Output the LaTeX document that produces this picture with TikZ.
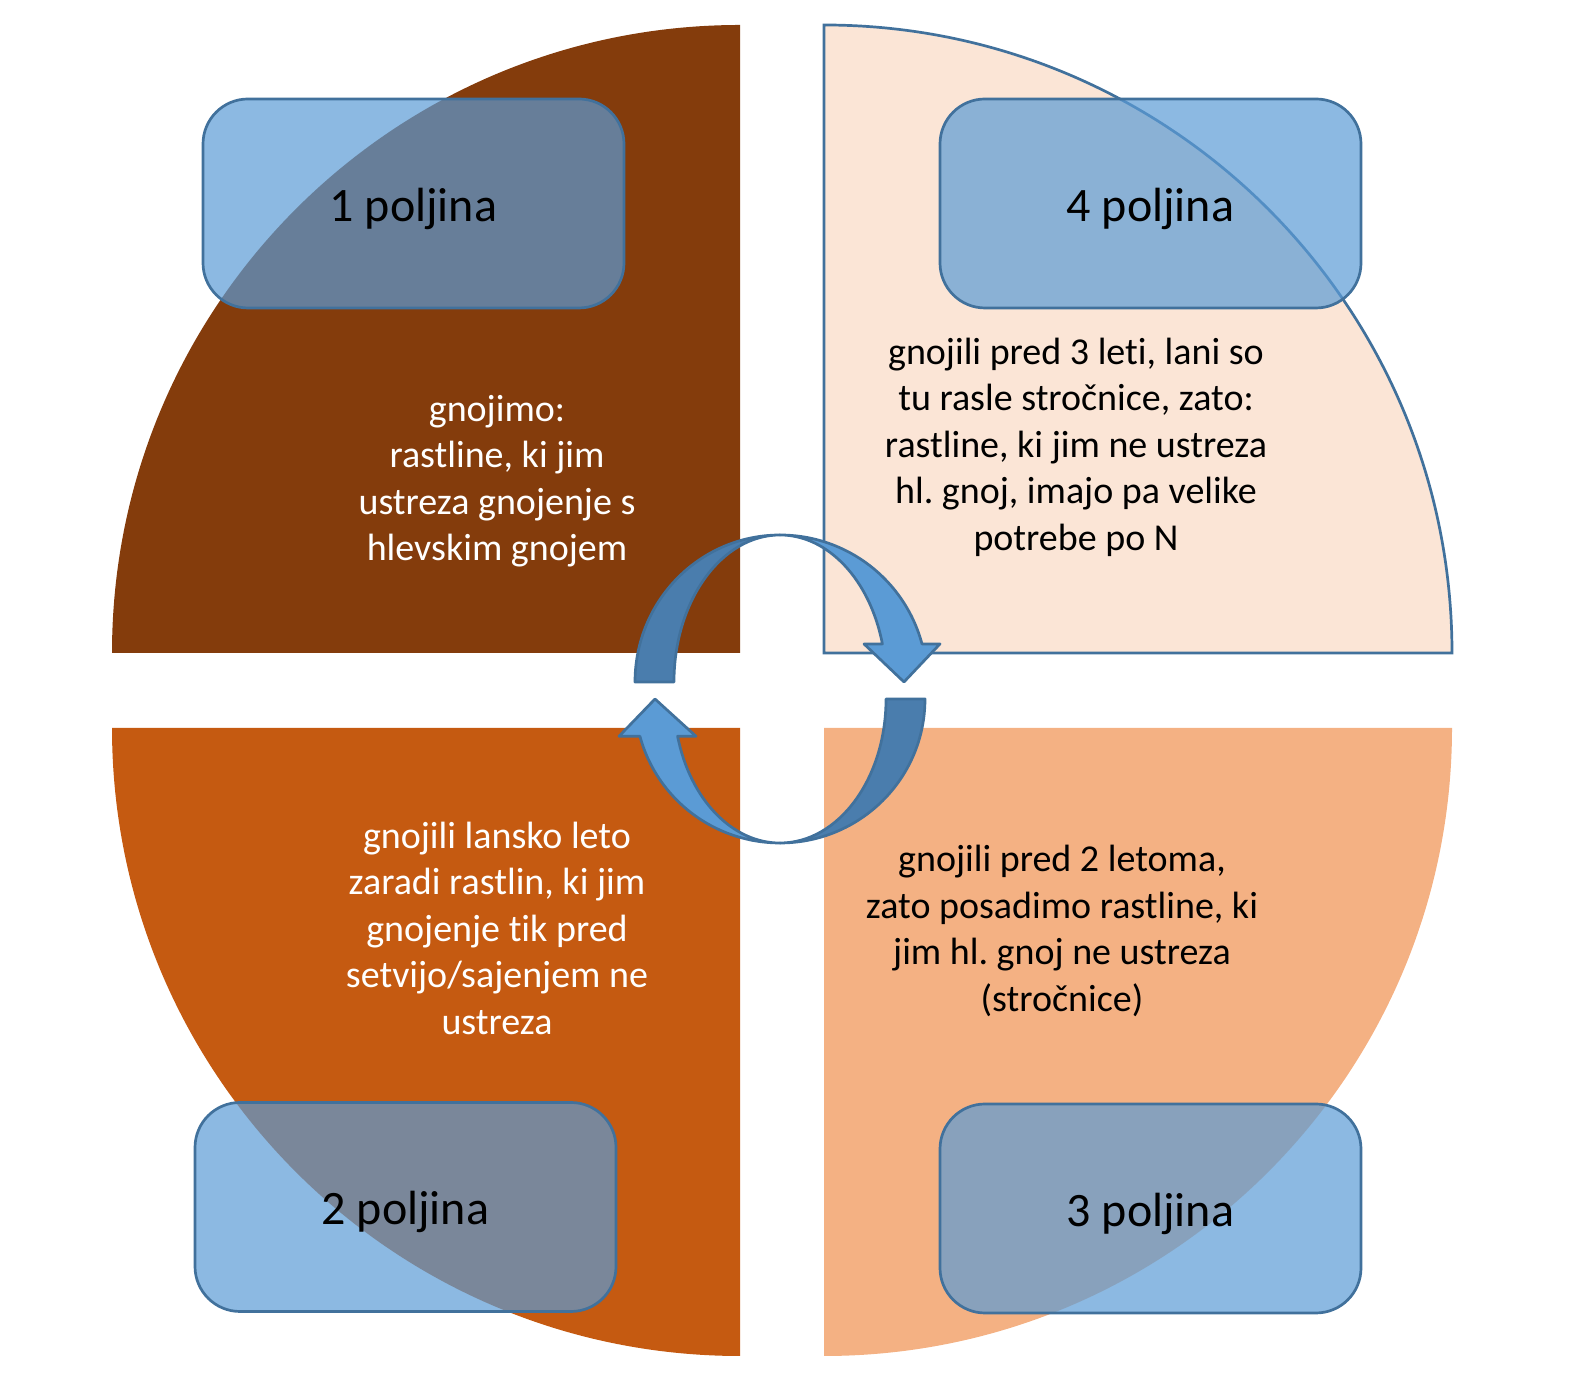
\documentclass[tikz,border=0pt]{standalone}
\usepackage{fontspec}
\setmainfont{Carlito}[Ligatures={TeX,NoCommon}]
\usetikzlibrary{positioning}
\definecolor{Fa}{HTML}{843C0C}
\definecolor{Fb}{HTML}{C55A11}
\definecolor{Fc}{HTML}{F4B183}
\definecolor{Fd}{HTML}{FBE5D6}
\definecolor{Bf}{HTML}{5B9BD5}
\definecolor{Bl}{HTML}{41719C}
\definecolor{Bd}{HTML}{4A7DAD}
\frenchspacing
\tikzset{
  field/.style={rectangle, rounded corners=45pt, draw=Bl, line width=2.7pt,
    fill=Bf, fill opacity=0.7, text opacity=1, text height=46pt, text depth=10pt,
    minimum width=421pt, minimum height=209pt, font=\fontsize{48}{58}\selectfont},
  note/.style={align=center, inner sep=0pt, font=\fontsize{38}{46.5}\selectfont},
  ringback/.style={fill=Bd, draw=Bl, line width=2.7pt, line join=round},
  ringfront/.style={fill=Bf, draw=Bl, line width=2.7pt, line join=round},
}

\begin{document}
\begin{tikzpicture}[x=1pt, y=1pt]
  \useasboundingbox (0,0) rectangle (1572,1383);
  % four quarters
  \fill[Fa] (740,730) -- (112,730) arc (180:90:628) -- cycle;
  \filldraw[fill=Fd, draw=Bl, line width=2.7pt] (824,730) -- (824,1358) arc (90:0:628) -- cycle;
  \fill[Fb] (740,655) -- (112,655) arc (180:270:628) -- cycle;
  \fill[Fc] (824,655) -- (1452,655) arc (0:-90:628) -- cycle;
  % notes
  \node[note, text=white] (n1) at (497,902) {gnojimo:\\rastline, ki jim\\ustreza gnojenje s\\hlevskim gnojem};
  \node[note] (n4) at (1076,936) {gnojili pred 3 leti, lani so\\tu rasle stročnice, zato:\\rastline, ki jim ne ustreza\\hl. gnoj, imajo pa velike\\potrebe po N};
  \node[note, text=white] (n2) at (497,455) {gnojili lansko leto\\zaradi rastlin, ki jim\\gnojenje tik pred\\setvijo/sajenjem ne\\ustreza};
  \node[note] (n3) at (1062,452) {gnojili pred 2 letoma,\\zato posadimo rastline, ki\\jim hl. gnoj ne ustreza\\(stročnice)};
  % fields
  \node[field] (f1) at (413.5,1179.5) {1 poljina};
  \node[field] (f4) at (1150.5,1179.5) {4 poljina};
  \node[field] (f2) at (405.5,176) {2 poljina};
  \node[field] (f3) at (1150.5,174.5) {3 poljina};
  % cycle arrows
  \draw[ringback] (635,701) arc (180:90:145 and 147) arc (90:180:106 and 147) -- cycle;
  \draw[ringfront] (780,848) arc (90:15:147) -- (940,739.05) -- (904,701) -- (864,739.05)
    -- ({780+106*cos(15)},739.05) arc (15:90:106 and 147) -- cycle;
  \draw[ringback] (925,684) arc (0:-90:145 and 144) arc (-90:0:106 and 144) -- cycle;
  \draw[ringfront] (780,540) arc (-90:-165:145 and 144) -- (619,646.7) -- (655,684) -- (696,646.7)
    -- ({780-106*cos(15)},646.7) arc (-165:-90:106 and 144) -- cycle;
\end{tikzpicture}
\end{document}
